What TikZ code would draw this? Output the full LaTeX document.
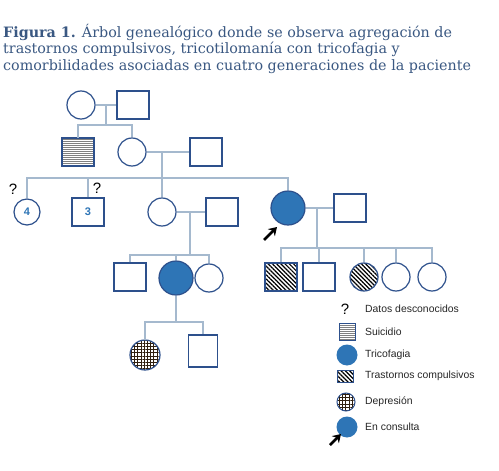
\documentclass[tikz,border=0pt]{standalone}
\usepackage{fontspec}
\setmainfont{DejaVu Serif}
\setsansfont{Liberation Sans}
\usepackage{xcolor}
\usetikzlibrary{patterns.meta,arrows.meta}
\definecolor{titleblue}{RGB}{58,88,130}
\definecolor{edgeblue}{RGB}{45,80,140}
\definecolor{linkgray}{RGB}{165,185,206}
\definecolor{fillblue}{RGB}{46,117,182}
\tikzset{
  fem/.style={circle,draw=edgeblue,line width=1.2pt,minimum size=28pt,inner sep=0pt},
  mal/.style={rectangle,draw=edgeblue,line width=1.2pt,minimum width=32pt,minimum height=28pt,inner sep=0pt},
  tric/.style={fem,fill=fillblue,minimum size=34pt},
  suic/.style={pattern={Lines[angle=0,distance=2pt,line width=0.7pt]},pattern color=gray},
  comp/.style={pattern={Lines[angle=-45,distance=3pt,line width=1.2pt]},pattern color=black},
  depr/.style={pattern={Hatch[angle=0,distance=3.2pt,line width=0.45pt]},pattern color=black!75!brown},
  link/.style={draw=linkgray,line width=1.1pt},
  pointer/.style={-{Stealth[length=8pt,width=10pt]},line width=2.6pt,black},
  unk/.style={font=\sffamily\fontsize{15}{15}\selectfont,inner sep=0pt},
  num/.style={font=\sffamily\bfseries\fontsize{11}{11}\selectfont,text=fillblue},
  legtext/.style={anchor=west,font=\sffamily\fontsize{10.4}{10.4}\selectfont,text=black!85,inner sep=0pt}
}
\begin{document}
\begin{tikzpicture}[x=1pt,y=-1pt]
  \fill[white] (0,0) rectangle (499,471);
  \useasboundingbox (0,0) rectangle (499,471);
  \node[anchor=north west,align=left,inner sep=0pt,text=titleblue,
        font=\fontsize{14.3}{16.5}\selectfont] (title) at (3,24)
    {\textbf{Figura 1.} Árbol genealógico donde se observa agregación de\\
     trastornos compulsivos, tricotilomanía con tricofagia y\\
     comorbilidades asociadas en cuatro generaciones de la paciente};

  % generation I
  \node[fem] (a1) at (81,105) {};
  \node[mal] (a2) at (133,105) {};
  % generation II
  \node[mal,suic] (b1) at (78,152) {};
  \node[fem] (b2) at (132,152) {};
  \node[mal] (b3) at (206,152) {};
  % generation III
  \node[fem,minimum size=26pt,num] (c1) at (27,212) {4};
  \node[mal,num] (c2) at (88,212) {3};
  \node[fem] (c3) at (162,212) {};
  \node[mal] (c4) at (222,212) {};
  \node[tric] (c5) at (288,208) {};
  \node[mal] (c6) at (350,208) {};
  % generation IV
  \node[mal] (d1) at (130,277) {};
  \node[tric] (d2) at (176,278) {};
  \node[fem] (d3) at (209,278) {};
  \node[mal,comp] (d4) at (281,277) {};
  \node[mal] (d5) at (319,277) {};
  \node[fem,comp] (d6) at (364,277) {};
  \node[fem] (d7) at (396,277) {};
  \node[fem] (d8) at (432,277) {};
  % generation V
  \node[fem,depr,minimum size=30pt] (e1) at (145,355) {};
  \node[mal,minimum width=29pt,minimum height=32pt] (e2) at (203,351) {};

  % marriages and sibships
  \coordinate (m1) at (106,105); \coordinate (s1) at (106,125);
  \coordinate (m2) at (162,152); \coordinate (s2) at (162,178);
  \coordinate (m3) at (190,212); \coordinate (s3) at (190,255);
  \coordinate (m4) at (317,208); \coordinate (s4) at (317,248);
  \coordinate (s5) at (176,322);
  \draw[link] (a1) -- (a2) (m1) -- (s1);
  \draw[link] (b1.north) |- (s1) -| (b2.north);
  \draw[link] (b2) -- (b3) (m2) -- (c3.north);
  \draw[link] (c1.north) |- (s2) -| (c5.north);
  \draw[link] (c2.north) -- (c2.north |- s2);
  \draw[link] (c3) -- (c4) (m3) -- (s3);
  \draw[link] (d1.north) |- (s3) -| (d3.north);
  \draw[link] (d2.north) -- (d2.north |- s3);
  \draw[link] (c5) -- (c6) (m4) -- (s4);
  \draw[link] (d4.north) |- (s4) -| (d8.north);
  \draw[link] (d5.north) -- (d5.north |- s4);
  \draw[link] (d6.north) -- (d6.north |- s4);
  \draw[link] (d7.north) -- (d7.north |- s4);
  \draw[link] (d2.south) -- (s5);
  \draw[link] (e1.north) |- (s5) -| (e2.north);

  \node[unk] (q1) at (13,189) {?};
  \node[unk] (q2) at (97,188) {?};
  \coordinate (p1) at (264,240); \coordinate (p2) at (277,227);
  \draw[pointer] (p1) -- (p2);

  % legend
  \node[unk] (lq) at (345,309) {?};
  \node[rectangle,draw=edgeblue,line width=1pt,minimum width=16pt,minimum height=17pt,inner sep=0pt,suic] (ls) at (347,332) {};
  \node[circle,fill=fillblue,minimum width=21pt,minimum height=19pt,inner sep=0pt] (lt) at (347,355) {};
  \node[rectangle,draw=edgeblue,line width=0.8pt,minimum width=16pt,minimum height=12pt,inner sep=0pt,comp] (lc) at (345,376) {};
  \node[circle,draw=edgeblue,line width=1pt,minimum size=18pt,inner sep=0pt,depr] (ld) at (346,402) {};
  \node[circle,fill=fillblue,minimum width=21pt,minimum height=19pt,inner sep=0pt] (le) at (347,427) {};
  \coordinate (p3) at (330,445); \coordinate (p4) at (341,434);
  \draw[pointer] (p3) -- (p4);
  \node[legtext] at (365,309) {Datos desconocidos};
  \node[legtext] at (365,332) {Suicidio};
  \node[legtext] at (365,355) {Tricofagia};
  \node[legtext] at (365,376) {Trastornos compulsivos};
  \node[legtext] at (365,402) {Depresión};
  \node[legtext] at (365,427) {En consulta};
\end{tikzpicture}
\end{document}
